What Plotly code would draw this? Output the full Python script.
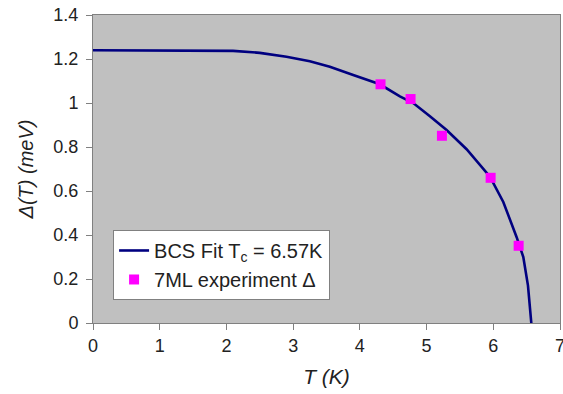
import plotly.graph_objects as go

# BCS fit curve, Tc = 6.57 K
fit_T = [0, 1.3, 2.1, 2.5, 2.9, 3.25, 3.55, 3.9, 4.3, 4.6, 4.8, 5.05, 5.3, 5.6, 5.95, 6.15, 6.35, 6.45, 6.52, 6.57]
fit_gap = [1.24, 1.24, 1.237, 1.228, 1.21, 1.19, 1.165, 1.127, 1.085, 1.03, 1.0, 0.94, 0.877, 0.79, 0.665, 0.55, 0.39, 0.30, 0.17, 0.0]

# 7ML measured gap values
exp_T = [4.31, 4.76, 5.23, 5.96, 6.38]
exp_gap = [1.085, 1.018, 0.851, 0.66, 0.351]

x_ticks = [0, 1, 2, 3, 4, 5, 6, 7]
y_ticks = [0, 0.2, 0.4, 0.6, 0.8, 1, 1.2, 1.4]
y_tick_text = ["0", "0.2", "0.4", "0.6", "0.8", "1", "1.2", "1.4"]

FONT = "Liberation Sans, Arial"

fig = go.Figure()
fig.add_trace(go.Scatter(
    x=fit_T, y=fit_gap, mode="lines",
    line=dict(color="#000080", width=2.6),
    name="BCS Fit T<sub>c</sub> = 6.57K",
))
fig.add_trace(go.Scatter(
    x=exp_T, y=exp_gap, mode="markers",
    marker=dict(symbol="square", size=10, color="#FF00FF", line=dict(width=0)),
    name="7ML experiment Δ",
))

axis_common = dict(
    showgrid=False, zeroline=False, automargin=False,
    showline=True, linecolor="#808080", linewidth=1, mirror=True,
    ticks="outside", ticklen=6, tickcolor="#808080",
    tickfont=dict(family=FONT, size=18, color="#222222"),
)

fig.update_xaxes(
    range=[0, 7], tickvals=x_ticks, ticklabeloverflow="allow",
    title=dict(text="<i>T (K)</i>", font=dict(family=FONT, size=21, color="#222222"), standoff=14),
    **axis_common,
)
fig.update_yaxes(
    range=[0, 1.4], tickvals=y_ticks, ticktext=y_tick_text,
    ticklabelstandoff=4,
    title=dict(text="<i>Δ(T) (meV)</i>", font=dict(family=FONT, size=20, color="#222222"), standoff=14),
    **axis_common,
)

fig.update_layout(
    width=563, height=394,
    margin=dict(l=93, r=3, t=15, b=71),
    paper_bgcolor="white",
    plot_bgcolor="#C0C0C0",
    legend=dict(
        x=0.043, y=0.302, xanchor="left", yanchor="top",
        bgcolor="white", bordercolor="#808080", borderwidth=1,
        font=dict(family=FONT, size=20, color="#222222"),
    ),
)

fig.write_html("out.html")
